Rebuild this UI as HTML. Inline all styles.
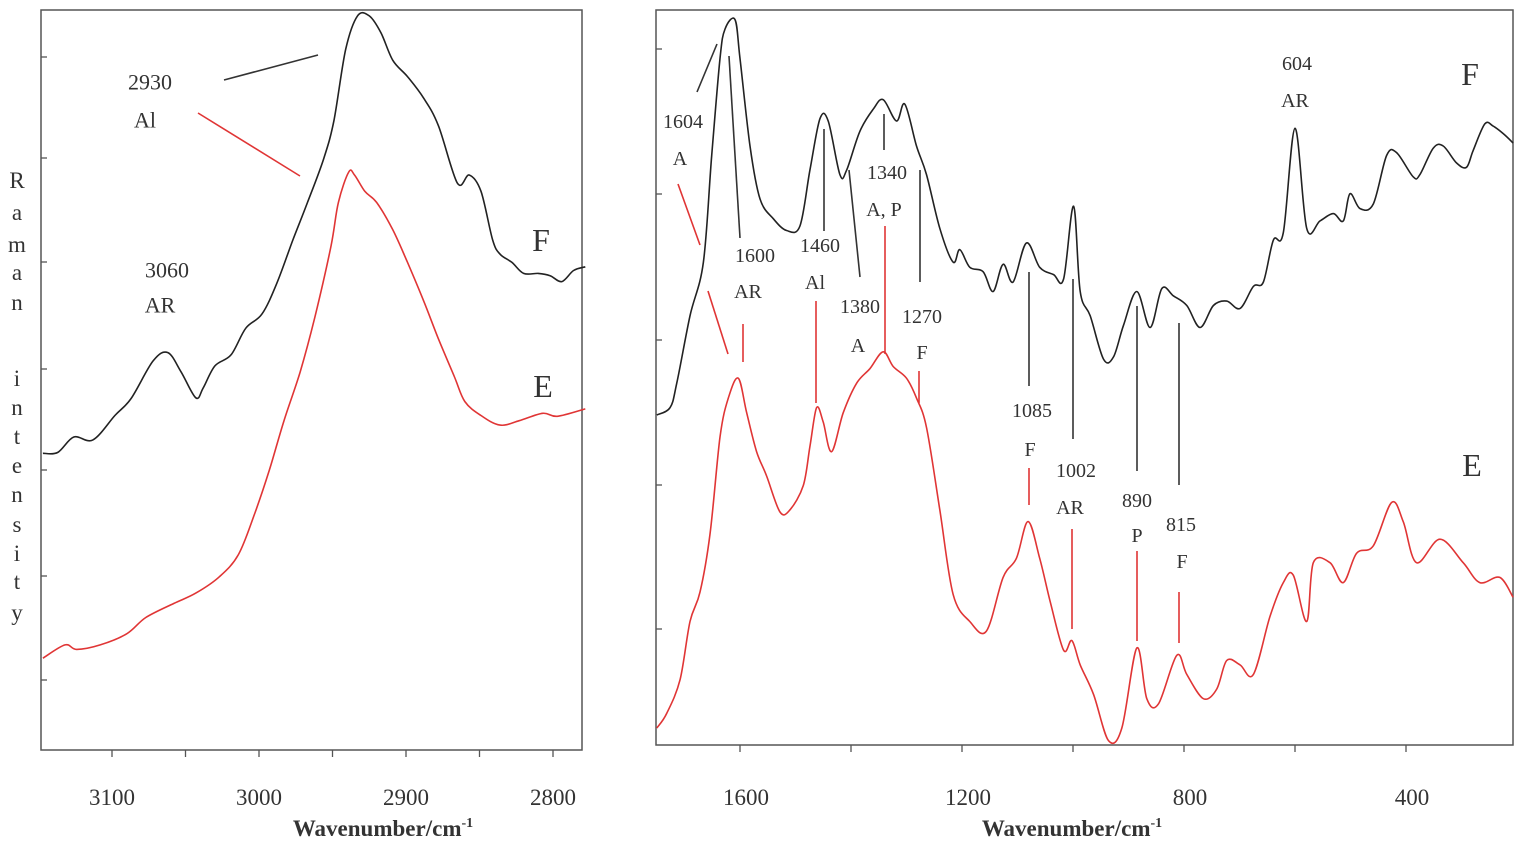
<!DOCTYPE html>
<html><head><meta charset="utf-8">
<style>
html,body{margin:0;padding:0;background:#fff;}
svg{display:block;font-family:"Liberation Serif",serif;}
</style></head>
<body>
<svg id="fig" width="1535" height="859" viewBox="0 0 1535 859" xmlns="http://www.w3.org/2000/svg">
<rect width="1535" height="859" fill="#fff"/>
<g id="left"></g>
<g id="right"></g>
<g id="ann" fill="#333" font-size="22" text-anchor="middle"></g>
</svg>
<script>
// ---------- Left panel data (C-H stretching region) ----------
const leftTicks = [3100, 3000, 2900, 2800];
const leftFWave = [3147,3137,3126,3113,3098,3087,3072,3062,3053,3043,3038,3030,3019,3009,2998,2988,2977,2967,2956,2949,2941,2933,2925,2917,2909,2899,2888,2878,2865,2857,2849,2841,2836,2828,2820,2810,2802,2794,2786,2778];
const leftFInt = [40.1,40.2,42.3,41.9,45.2,47.5,52.6,53.7,51.1,47.6,48.9,51.9,53.4,57.0,58.9,63.0,68.9,74.0,79.9,85.1,94.7,99.2,99.2,96.9,93.2,91.0,88.1,84.4,76.6,77.7,75.5,68.9,67.0,65.9,64.4,64.4,64.1,63.3,64.8,65.3];
const leftEWave = [3147,3132,3124,3108,3090,3077,3058,3043,3027,3014,3003,2993,2983,2972,2962,2951,2946,2939,2935,2928,2920,2909,2899,2888,2878,2867,2860,2849,2836,2823,2807,2797,2778];
const leftEInt = [12.4,14.2,13.6,14.2,15.7,17.9,19.8,21.2,23.4,26.4,31.9,37.8,44.5,51.1,58.5,68.1,74.0,78.1,77.7,75.5,74.0,70.3,65.9,60.7,55.6,50.4,47.1,45.2,43.9,44.5,45.5,45.1,46.1];

// ---------- Right panel data (fingerprint region) ----------
const rightTicks = [1600, 1200, 800, 400];
const rightMinorTicks = [1600, 1400, 1200, 1000, 800, 600, 400];
const rightFWave = [1750,1726,1714,1690,1666,1651,1636,1627,1609,1600,1582,1564,1540,1516,1492,1474,1456,1441,1420,1408,1384,1360,1342,1318,1303,1282,1264,1240,1216,1204,1186,1162,1144,1126,1108,1084,1060,1035,1017,999,987,969,945,927,909,885,861,840,819,795,771,747,723,699,675,657,639,621,600,579,555,531,513,501,483,459,435,417,387,375,351,333,309,291,279,258,243,225,207];
const rightFInt = [44.9,45.9,49.2,58.4,65.7,80.2,93.4,97.4,98.7,93.4,81.5,74.3,71.6,70.0,70.6,78.2,85.2,84.9,77.6,78.2,83.5,86.5,87.8,84.9,87.2,81.5,77.6,70.3,65.7,67.4,65.0,64.4,61.7,65.4,63.0,68.3,65.0,64.0,63.4,73.3,61.7,58.4,52.5,52.8,57.1,61.7,56.8,62.1,61.1,59.8,56.8,59.8,60.4,59.4,62.4,63.0,68.7,69.7,83.9,70.3,71.3,72.3,71.3,75.0,73.0,73.6,80.2,80.6,77.3,77.6,81.2,81.5,79.2,78.6,80.9,84.5,84.2,83.2,81.9];
const rightEWave = [1750,1732,1708,1690,1672,1654,1636,1621,1603,1588,1570,1552,1528,1510,1486,1474,1462,1450,1435,1414,1390,1366,1342,1324,1300,1282,1264,1240,1216,1186,1156,1126,1102,1081,1060,1041,1017,1002,987,963,936,912,885,867,846,813,795,765,741,723,699,675,645,621,603,579,567,537,513,489,459,426,405,381,339,297,267,231,207];
const rightEInt = [2.3,4.3,8.9,16.8,20.8,28.7,41.9,47.2,49.9,45.2,39.9,36.6,31.7,32.0,35.3,40.6,45.9,43.9,39.9,45.2,49.2,51.2,53.5,51.5,49.9,47.2,43.2,32.0,20.5,16.8,15.5,22.8,25.4,30.4,25.4,19.5,12.9,14.2,10.9,6.9,0.6,2.3,13.2,6.3,5.6,12.2,9.6,6.3,7.6,11.5,10.9,9.6,17.5,22.1,23.1,16.8,24.8,24.8,22.1,26.1,27.1,33.0,30.4,24.8,28.0,24.8,22.1,22.8,20.1];

const NS = "http://www.w3.org/2000/svg";
function mk(tag, attrs, parent){
  const e = document.createElementNS(NS, tag);
  for (const k in attrs) e.setAttribute(k, attrs[k]);
  parent.appendChild(e);
  return e;
}
// axis functions
const lx = v => 112 + (3100 - v) * 1.47;
const ly = i => 750 - i * 7.4;
const rx = v => 740 + (1600 - v) * 0.555;
const ry = i => 745 - i * 7.35;

// smooth Catmull-Rom path through data points
function path(ws, is, fx, fy){
  const p = ws.map((w,k)=>[fx(w), fy(is[k])]);
  let d = "M" + p[0][0].toFixed(1) + "," + p[0][1].toFixed(1);
  for (let k=0; k<p.length-1; k++){
    const p0 = p[Math.max(0,k-1)], p1 = p[k], p2 = p[k+1], p3 = p[Math.min(p.length-1,k+2)];
    const c1x = p1[0] + (p2[0]-p0[0])/6, c1y = p1[1] + (p2[1]-p0[1])/6;
    const c2x = p2[0] - (p3[0]-p1[0])/6, c2y = p2[1] - (p3[1]-p1[1])/6;
    d += " C" + c1x.toFixed(1) + "," + c1y.toFixed(1) + " " + c2x.toFixed(1) + "," + c2y.toFixed(1) + " " + p2[0].toFixed(1) + "," + p2[1].toFixed(1);
  }
  return d;
}

// ---- left panel ----
const L = document.getElementById('left');
let box = mk('rect',{x:41,y:10,width:541,height:740,fill:'none',stroke:'#555','stroke-width':1.5},L);


[57,158,262,369,470,576,680].forEach(y=>{
  const t = mk('line',{x1:41,x2:47,y1:y,y2:y,stroke:'#555','stroke-width':1.3},L);
  
  
});
for (let v=3100; v>=2800; v-=50){
  const t = mk('line',{x1:lx(v),x2:lx(v),y1:750,y2:757,stroke:'#555','stroke-width':1.3},L);
  
  
}
leftTicks.forEach(v=>{
  const t = mk('text',{x:lx(v),y:805,'font-size':23,'text-anchor':'middle',fill:'#333'},L);
  t.textContent = v;
  
  
});
let lt = mk('text',{x:383,y:836,'font-size':23,'text-anchor':'middle',fill:'#333','font-weight':'bold'},L);
lt.innerHTML = 'Wavenumber/cm<tspan dy="-9" font-size="14">-1</tspan>';


let lf = mk('path',{d:path(leftFWave,leftFInt,lx,ly),fill:'none',stroke:'#222','stroke-width':1.6,'stroke-linejoin':'round'},L);


let le = mk('path',{d:path(leftEWave,leftEInt,lx,ly),fill:'none',stroke:'#e03535','stroke-width':1.6,'stroke-linejoin':'round'},L);



// y axis title (vertical letters)
const letters = "Raman intensity".split("");
const ys = [180,212,244,272,302,0,378,407,436,465,494,524,553,581,612];
letters.forEach((c,k)=>{
  if (c===" ") return;
  const t = mk('text',{x:17,y:ys[k]+8,'font-size':23,'text-anchor':'middle',fill:'#333'},L);
  t.textContent = c;
  
  
});

// ---- right panel ----
const R = document.getElementById('right');
box = mk('rect',{x:656,y:10,width:857,height:735,fill:'none',stroke:'#555','stroke-width':1.5},R);


[49,194,340,485,629].forEach(y=>{
  const t = mk('line',{x1:656,x2:662,y1:y,y2:y,stroke:'#555','stroke-width':1.3},R);
  
  
});
rightMinorTicks.forEach(v=>{
  const t = mk('line',{x1:rx(v),x2:rx(v),y1:745,y2:752,stroke:'#555','stroke-width':1.3},R);
  
  
});
rightTicks.forEach(v=>{
  const t = mk('text',{x:rx(v)+6,y:805,'font-size':23,'text-anchor':'middle',fill:'#333'},R);
  t.textContent = v;
  
  
});
let rt = mk('text',{x:1072,y:836,'font-size':23,'text-anchor':'middle',fill:'#333','font-weight':'bold'},R);
rt.innerHTML = 'Wavenumber/cm<tspan dy="-9" font-size="14">-1</tspan>';


let rf = mk('path',{d:path(rightFWave,rightFInt,rx,ry),fill:'none',stroke:'#222','stroke-width':1.6,'stroke-linejoin':'round'},R);


let re = mk('path',{d:path(rightEWave,rightEInt,rx,ry),fill:'none',stroke:'#e03535','stroke-width':1.6,'stroke-linejoin':'round'},R);



// ---- annotations ----
const A = document.getElementById('ann');
const labels = [
 [150,82,"2930",22],[145,120,"Al",22],[167,270,"3060",22],[160,305,"AR",22],
 [541,240,"F",32],[543,386,"E",32],
 [683,121,"1604",20],[680,158,"A",20],[755,255,"1600",20],[748,291,"AR",20],
 [820,245,"1460",20],[815,282,"Al",20],[860,306,"1380",20],[858,345,"A",20],
 [887,172,"1340",20],[884,209,"A, P",20],[922,316,"1270",20],[922,352,"F",20],
 [1032,410,"1085",20],[1030,449,"F",20],[1076,470,"1002",20],[1070,507,"AR",20],
 [1137,500,"890",20],[1137,535,"P",20],[1181,524,"815",20],[1182,561,"F",20],
 [1297,63,"604",20],[1295,100,"AR",20],[1470,74,"F",32],[1472,465,"E",32]
];
labels.forEach(([x,y,s,f])=>{
  const t = mk('text',{x:x,y:y+f*0.35,'font-size':f},A);
  t.textContent = s;
  
  
});
const black = [[224,80,318,55],[697,92,717,44],[729,56,740,238],[824,129,824,231],[849,170,860,277],[884,114,884,150],[920,170,920,282],[1029,272,1029,386],[1073,279,1073,439],[1137,306,1137,471],[1179,323,1179,485]];
const red = [[198,113,300,176],[678,184,700,245],[708,291,728,354],[743,324,743,362],[816,301,816,403],[885,226,885,354],[919,371,919,403],[1029,468,1029,505],[1072,529,1072,629],[1137,551,1137,641],[1179,592,1179,643]];
black.forEach(([a,b,c,d])=>{
  const l = mk('line',{x1:a,y1:b,x2:c,y2:d,stroke:'#333','stroke-width':1.6},A);
  
  
});
red.forEach(([a,b,c,d])=>{
  const l = mk('line',{x1:a,y1:b,x2:c,y2:d,stroke:'#e03535','stroke-width':1.6},A);
  
  
});
</script>
</body></html>
